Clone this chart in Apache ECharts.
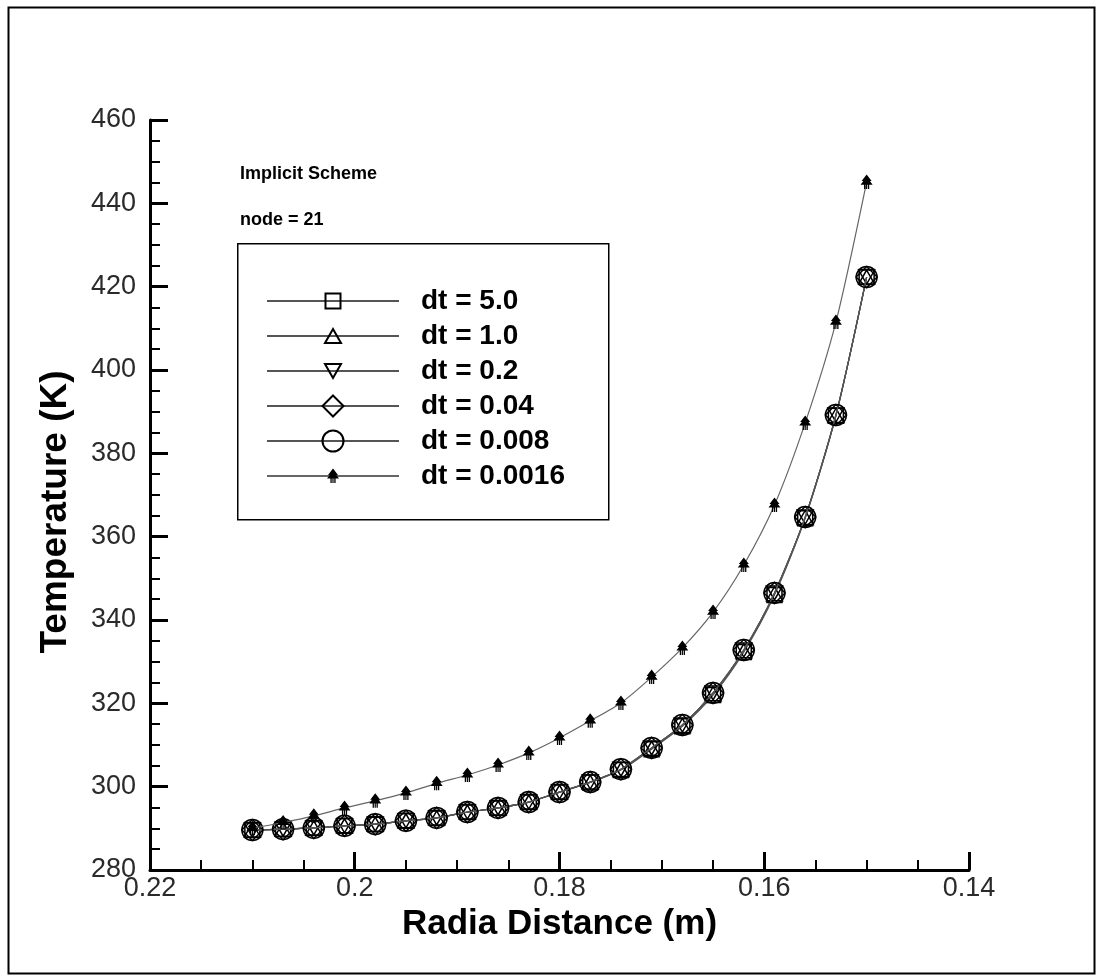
<!DOCTYPE html>
<html>
<head>
<meta charset="utf-8">
<title>Implicit Scheme – Temperature vs Radial Distance</title>
<script src="https://cdn.jsdelivr.net/npm/echarts@6/dist/echarts.min.js"></script>
<style>
  html, body { margin: 0; padding: 0; background: #fff; }
  #chart { width: 1099px; height: 977px; }
</style>
</head>
<body>
<div id="chart"></div>
<script>
// Radial node positions (m), 21 nodes
const radius = [0.210, 0.207, 0.204, 0.201, 0.198, 0.195, 0.192, 0.189, 0.186, 0.183, 0.180,
                0.177, 0.174, 0.171, 0.168, 0.165, 0.162, 0.159, 0.156, 0.153, 0.150];

// Temperature (K) at each node for each time step
const tDt5_0   = [289.6, 289.8, 290.1, 290.6, 291.0, 291.8, 292.5, 293.9, 294.9, 296.3, 298.7,
                  301.0, 304.0, 309.0, 314.5, 322.0, 332.3, 346.0, 364.4, 389.0, 422.3];
const tDt1_0   = [289.6, 289.8, 290.1, 290.6, 291.0, 291.8, 292.5, 293.9, 294.9, 296.3, 298.7,
                  301.1, 304.1, 309.2, 314.7, 322.3, 332.6, 346.3, 364.6, 389.1, 422.3];
const tDt0_2   = [289.6, 289.8, 290.1, 290.6, 291.0, 291.8, 292.5, 293.9, 294.9, 296.3, 298.7,
                  301.1, 304.2, 309.3, 314.8, 322.5, 332.8, 346.5, 364.7, 389.2, 422.3];
const tDt0_04  = [289.6, 289.8, 290.1, 290.6, 291.0, 291.8, 292.5, 293.9, 294.9, 296.3, 298.7,
                  301.1, 304.2, 309.3, 314.8, 322.5, 332.8, 346.5, 364.7, 389.2, 422.3];
const tDt0_008 = [289.6, 289.8, 290.1, 290.6, 291.0, 291.8, 292.5, 293.9, 294.9, 296.3, 298.7,
                  301.1, 304.2, 309.3, 314.8, 322.5, 332.8, 346.5, 364.7, 389.2, 422.3];
const tDt0_0016 = [290.0, 291.4, 293.0, 294.9, 296.6, 298.5, 300.8, 302.8, 305.2, 308.1, 311.7,
                   315.8, 320.1, 326.3, 333.3, 341.9, 353.2, 367.6, 387.3, 411.5, 445.1];

const seriesNames = ['dt = 5.0', 'dt = 1.0', 'dt = 0.2', 'dt = 0.04', 'dt = 0.008', 'dt = 0.0016'];
const seriesValues = [tDt5_0, tDt1_0, tDt0_2, tDt0_04, tDt0_008, tDt0_0016];

// Axis ranges and tick spacing
const xRange = { min: 0.14, max: 0.22, step: 0.02 };
const yRange = { min: 280, max: 460, step: 20 };

// Marker outlines, all drawn inside a common 22x22 frame so relative sizes are preserved
const FRAME = 'M0 0 M22 22 ';
const symbols = [
  'path://' + FRAME + 'M3.5 3.5 L18.5 3.5 L18.5 18.5 L3.5 18.5 Z',
  'path://' + FRAME + 'M11 4 L19 18 L3 18 Z',
  'path://' + FRAME + 'M3 4 L19 4 L11 18 Z',
  'path://' + FRAME + 'M11 0.5 L21.5 11 L11 21.5 L0.5 11 Z',
  'path://' + FRAME + 'M0.5 11 A10.5 10.5 0 1 1 21.5 11 A10.5 10.5 0 1 1 0.5 11 Z',
  'path://' + FRAME + 'M11 3.5 L16 10 L14.3 10 L17 13.6 L13.6 13.6 L13.6 18 L12.3 18 L12.3 13.6 ' +
    'L11.6 13.6 L11.6 18 L10.4 18 L10.4 13.6 L9.7 13.6 L9.7 18 L8.4 18 L8.4 13.6 L5 13.6 L7.7 10 L6 10 Z'
];

const FONT = '"Liberation Sans", Arial, Helvetica, sans-serif';

const chart = echarts.init(document.getElementById('chart'), null, { renderer: 'canvas' });

const series = seriesNames.map((name, i) => {
  const filled = i === 5;
  return {
    name: name,
    type: 'line',
    data: radius.map((r, k) => [r, seriesValues[i][k]]),
    smooth: 0.25,
    symbol: symbols[i],
    symbolSize: 22,
    showAllSymbol: true,
    lineStyle: { color: filled ? '#666' : '#555', width: 1.2 },
    itemStyle: filled
      ? { color: '#000', borderWidth: 0 }
      : { color: 'rgba(0,0,0,0)', borderColor: '#000', borderWidth: 1.5 },
    emphasis: { disabled: true },
    z: 2 + i
  };
});

const option = {
  backgroundColor: '#fff',
  animation: false,
  grid: { left: 150, right: 130, top: 120, bottom: 107, containLabel: false },
  xAxis: {
    type: 'value',
    inverse: true,
    min: xRange.min,
    max: xRange.max,
    interval: xRange.step,
    name: 'Radia Distance (m)',
    nameLocation: 'middle',
    nameGap: 29,
    nameTextStyle: { fontFamily: FONT, fontWeight: 'bold', fontSize: 35, color: '#000' },
    axisLine: { show: true, lineStyle: { color: '#000', width: 3 } },
    axisTick: { show: true, inside: true, length: 18, lineStyle: { color: '#000', width: 3 } },
    minorTick: { show: true, splitNumber: 4, length: 10, lineStyle: { color: '#000', width: 2 } },
    axisLabel: { fontFamily: FONT, fontSize: 27, color: '#2a2a2a', margin: 5 },
    splitLine: { show: false },
    minorSplitLine: { show: false }
  },
  yAxis: {
    type: 'value',
    min: yRange.min,
    max: yRange.max,
    interval: yRange.step,
    axisLine: { show: true, lineStyle: { color: '#000', width: 3 } },
    axisTick: { show: true, inside: true, length: 18, lineStyle: { color: '#000', width: 3 } },
    minorTick: { show: true, splitNumber: 4, length: 10, lineStyle: { color: '#000', width: 2 } },
    axisLabel: { fontFamily: FONT, fontSize: 27, color: '#2a2a2a', margin: 14 },
    splitLine: { show: false },
    minorSplitLine: { show: false }
  },
  legend: {
    orient: 'vertical',
    left: 266,
    top: 287,
    padding: 0,
    itemWidth: 132,
    itemHeight: 27.5,
    itemGap: 7,
    selectedMode: false,
    data: seriesNames,
    textStyle: { fontFamily: FONT, fontWeight: 'bold', fontSize: 28, color: '#000', padding: [0, 0, 0, 17] }
  },
  graphic: [
    { type: 'rect', left: 6, top: 5, shape: { width: 1086, height: 966 },
      style: { fill: 'none', stroke: '#000', lineWidth: 2 }, silent: true, z: 0 },
    { type: 'rect', left: 237, top: 243, shape: { width: 371, height: 276 },
      style: { fill: '#fff', stroke: '#000', lineWidth: 1.5 }, silent: true, z: 1 },
    { type: 'text', left: 240, top: 165,
      style: { text: 'Implicit Scheme', font: 'bold 18px ' + FONT, fill: '#000' }, silent: true },
    { type: 'text', left: 240, top: 211,
      style: { text: 'node = 21', font: 'bold 18px ' + FONT, fill: '#000' }, silent: true },
    // Vertical axis title
    { type: 'text', x: 56, y: 512, rotation: Math.PI / 2,
      style: { text: 'Temperature (K)', font: 'bold 37px ' + FONT, fill: '#000',
               align: 'center', verticalAlign: 'middle' }, silent: true }
  ],
  series: series
};

chart.setOption(option);
</script>
</body>
</html>
